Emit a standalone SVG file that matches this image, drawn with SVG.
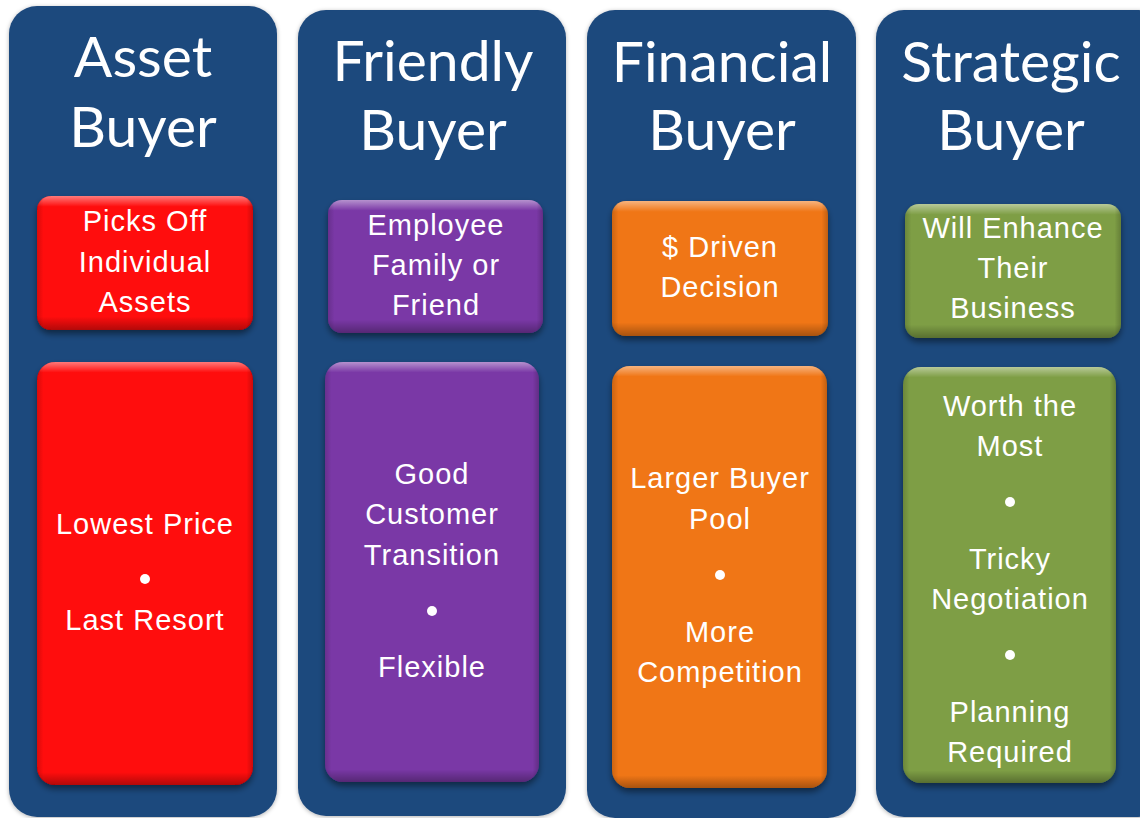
<svg xmlns="http://www.w3.org/2000/svg" width="1140" height="818" viewBox="0 0 1140 818">
<style>
.col{fill:#1F497D;filter:url(#colShadow);}
.title{font-family:Lato,"Open Sans","DejaVu Sans",sans-serif;font-size:57px;fill:#fff;text-anchor:middle;}
.t{font-family:"Liberation Sans",Arial,sans-serif;font-size:29px;fill:#fff;text-anchor:middle;letter-spacing:1px;}
.red{fill:#FF0707;}
.pur{fill:#7A37A6;}
.org{fill:#F07612;}
.grn{fill:#7E9E45;}
.box{filter:url(#boxShadow);}
.dot{fill:#fff;}
</style>
<defs>
<filter id="colShadow" x="-10%" y="-10%" width="120%" height="120%">
<feDropShadow dx="0" dy="1" stdDeviation="2" flood-color="#000" flood-opacity="0.3"/>
</filter>
<filter id="boxShadow" x="-10%" y="-10%" width="120%" height="125%">
<feDropShadow dx="0" dy="4" stdDeviation="3" flood-color="#000" flood-opacity="0.45"/>
</filter>
<linearGradient id="vS" x1="0" y1="0" x2="0" y2="1">
<stop offset="0" stop-color="#fff" stop-opacity="0.45"/>
<stop offset="0.08" stop-color="#fff" stop-opacity="0"/>
<stop offset="0.9" stop-color="#000" stop-opacity="0"/>
<stop offset="1" stop-color="#000" stop-opacity="0.3"/>
</linearGradient>
<linearGradient id="vB" x1="0" y1="0" x2="0" y2="1">
<stop offset="0" stop-color="#fff" stop-opacity="0.45"/>
<stop offset="0.025" stop-color="#fff" stop-opacity="0"/>
<stop offset="0.97" stop-color="#000" stop-opacity="0"/>
<stop offset="1" stop-color="#000" stop-opacity="0.3"/>
</linearGradient>
<linearGradient id="h" x1="0" y1="0" x2="1" y2="0">
<stop offset="0" stop-color="#000" stop-opacity="0.15"/>
<stop offset="0.03" stop-color="#000" stop-opacity="0"/>
<stop offset="0.97" stop-color="#000" stop-opacity="0"/>
<stop offset="1" stop-color="#000" stop-opacity="0.2"/>
</linearGradient>
</defs>
<rect width="1140" height="818" fill="#fff"/>

<g id="col-asset">
<rect class="col" x="9" y="6" width="268" height="811" rx="28"/>
<text class="title" x="143" y="77">Asset</text>
<text class="title" x="143" y="147">Buyer</text>
</g>
<g id="col-friendly">
<rect class="col" x="298" y="10" width="268" height="806" rx="28"/>
<text class="title" x="433" y="81">Friendly</text>
<text class="title" x="433" y="150">Buyer</text>
</g>
<g id="col-financial">
<rect class="col" x="587" y="10" width="269" height="808" rx="28"/>
<text class="title" x="722" y="82">Financial</text>
<text class="title" x="722" y="150">Buyer</text>
</g>
<g id="col-strategic">
<rect class="col" x="876" y="10" width="290" height="807" rx="28"/>
<text class="title" x="1011" y="82">Strategic</text>
<text class="title" x="1011" y="150">Buyer</text>
</g>

<g id="asset-top">
<g class="box"><rect class="red" x="37" y="196" width="216" height="134" rx="14"/></g>
<rect x="37" y="196" width="216" height="134" rx="14" fill="url(#vS)"/>
<rect x="37" y="196" width="216" height="134" rx="14" fill="url(#h)"/>
<text class="t" x="145" y="231">Picks Off</text>
<text class="t" x="145" y="272">Individual</text>
<text class="t" x="145" y="312">Assets</text>
</g>
<g id="asset-bottom">
<g class="box"><rect class="red" x="37" y="362" width="216" height="423" rx="18"/></g>
<rect x="37" y="362" width="216" height="423" rx="18" fill="url(#vB)"/>
<rect x="37" y="362" width="216" height="423" rx="18" fill="url(#h)"/>
<text class="t" x="145" y="534">Lowest Price</text>
<circle class="dot" cx="145" cy="579" r="5"/>
<text class="t" x="145" y="630">Last Resort</text>
</g>

<g id="friendly-top">
<g class="box"><rect class="pur" x="328" y="200" width="215" height="133" rx="14"/></g>
<rect x="328" y="200" width="215" height="133" rx="14" fill="url(#vS)"/>
<rect x="328" y="200" width="215" height="133" rx="14" fill="url(#h)"/>
<text class="t" x="436" y="235">Employee</text>
<text class="t" x="436" y="275">Family or</text>
<text class="t" x="436" y="315">Friend</text>
</g>
<g id="friendly-bottom">
<g class="box"><rect class="pur" x="325" y="362" width="214" height="420" rx="18"/></g>
<rect x="325" y="362" width="214" height="420" rx="18" fill="url(#vB)"/>
<rect x="325" y="362" width="214" height="420" rx="18" fill="url(#h)"/>
<text class="t" x="432" y="484">Good</text>
<text class="t" x="432" y="524">Customer</text>
<text class="t" x="432" y="565">Transition</text>
<circle class="dot" cx="432" cy="611" r="5"/>
<text class="t" x="432" y="677">Flexible</text>
</g>

<g id="financial-top">
<g class="box"><rect class="org" x="612" y="201" width="216" height="135" rx="14"/></g>
<rect x="612" y="201" width="216" height="135" rx="14" fill="url(#vS)"/>
<rect x="612" y="201" width="216" height="135" rx="14" fill="url(#h)"/>
<text class="t" x="720" y="257">$ Driven</text>
<text class="t" x="720" y="297">Decision</text>
</g>
<g id="financial-bottom">
<g class="box"><rect class="org" x="612" y="366" width="215" height="422" rx="18"/></g>
<rect x="612" y="366" width="215" height="422" rx="18" fill="url(#vB)"/>
<rect x="612" y="366" width="215" height="422" rx="18" fill="url(#h)"/>
<text class="t" x="720" y="488">Larger Buyer</text>
<text class="t" x="720" y="529">Pool</text>
<circle class="dot" cx="720" cy="575" r="5"/>
<text class="t" x="720" y="642">More</text>
<text class="t" x="720" y="682">Competition</text>
</g>

<g id="strategic-top">
<g class="box"><rect class="grn" x="905" y="204" width="216" height="134" rx="14"/></g>
<rect x="905" y="204" width="216" height="134" rx="14" fill="url(#vS)"/>
<rect x="905" y="204" width="216" height="134" rx="14" fill="url(#h)"/>
<text class="t" x="1013" y="238">Will Enhance</text>
<text class="t" x="1013" y="278">Their</text>
<text class="t" x="1013" y="318">Business</text>
</g>
<g id="strategic-bottom">
<g class="box"><rect class="grn" x="903" y="367" width="213" height="416" rx="18"/></g>
<rect x="903" y="367" width="213" height="416" rx="18" fill="url(#vB)"/>
<rect x="903" y="367" width="213" height="416" rx="18" fill="url(#h)"/>
<text class="t" x="1010" y="416">Worth the</text>
<text class="t" x="1010" y="456">Most</text>
<circle class="dot" cx="1010" cy="502" r="5"/>
<text class="t" x="1010" y="569">Tricky</text>
<text class="t" x="1010" y="609">Negotiation</text>
<circle class="dot" cx="1010" cy="655" r="5"/>
<text class="t" x="1010" y="722">Planning</text>
<text class="t" x="1010" y="762">Required</text>
</g>

<g id="connectors"></g>
</svg>
